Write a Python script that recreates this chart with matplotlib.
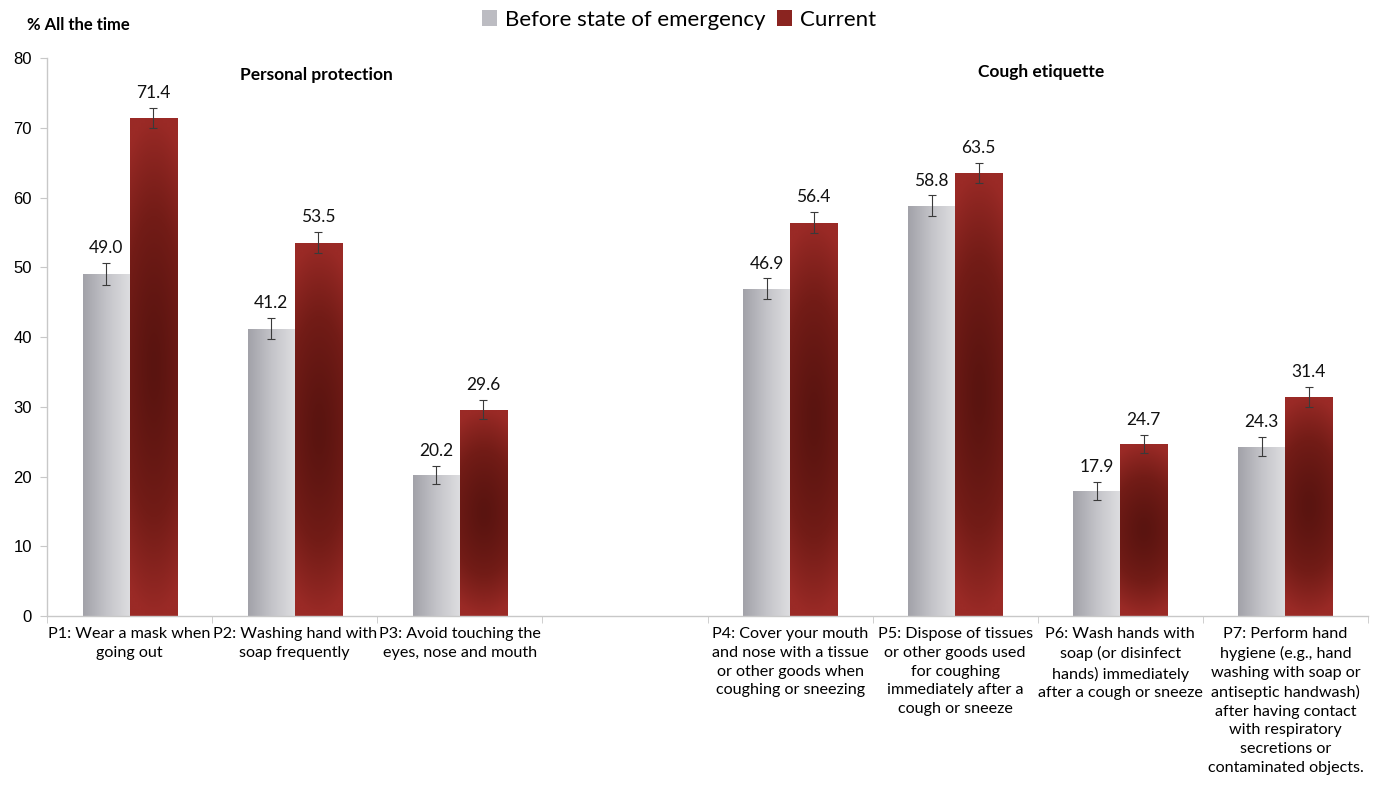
import numpy as np
import matplotlib.pyplot as plt
from matplotlib.patches import Patch
from matplotlib.colors import LinearSegmentedColormap

# data
labels = [
    "P1: Wear a mask when\ngoing out",
    "P2: Washing hand with\nsoap frequently",
    "P3: Avoid touching the\neyes, nose and mouth",
    "P4: Cover your mouth\nand nose with a tissue\nor other goods when\ncoughing or sneezing",
    "P5: Dispose of tissues\nor other goods used\nfor coughing\nimmediately after a\ncough or sneeze",
    "P6: Wash hands with\nsoap (or disinfect\nhands) immediately\nafter a cough or sneeze",
    "P7: Perform hand\nhygiene (e.g., hand\nwashing with soap or\nantiseptic handwash)\nafter having contact\nwith respiratory\nsecretions or\ncontaminated objects.",
]
slots = [0, 1, 2, 4, 5, 6, 7]  # slot 3 left empty between the two groups
before = [49.0, 41.2, 20.2, 46.9, 58.8, 17.9, 24.3]
current = [71.4, 53.5, 29.6, 56.4, 63.5, 24.7, 31.4]
before_err = [1.6, 1.5, 1.3, 1.5, 1.5, 1.3, 1.4]
current_err = [1.4, 1.5, 1.4, 1.5, 1.4, 1.3, 1.4]

plt.rcParams["font.family"] = ["Lato", "DejaVu Sans"]

fig = plt.figure(figsize=(13.86, 7.89), dpi=100)
ax = fig.add_axes([0.034, 0.219, 0.953, 0.7075])

x = np.array(slots, dtype=float)
w = 0.285

gray_cmap = LinearSegmentedColormap.from_list("g", ["#a2a2a9", "#c4c4c9", "#dedee1"])
red_cmap = LinearSegmentedColormap.from_list("r", ["#5a1410", "#731c17", "#9a2a26"])


def fill_gradient(patch, kind):
    bx, by = patch.get_x(), patch.get_y()
    bw, bh = patch.get_width(), patch.get_height()
    if kind == "gray":
        grad = np.tile(np.linspace(0, 1, 64), (8, 1))
        cmap = gray_cmap
    else:
        gx, gy = np.meshgrid(np.linspace(-1, 1, 64), np.linspace(-1, 1, 128))
        grad = np.clip(np.sqrt((gx * 0.45) ** 2 + gy ** 2), 0, 1) ** 1.4
        cmap = red_cmap
    im = ax.imshow(grad, cmap=cmap, vmin=0, vmax=1, aspect="auto",
                   extent=[bx, bx + bw, by, by + bh], origin="lower",
                   interpolation="bilinear", zorder=2)
    im.set_clip_path(patch)


bars_b = ax.bar(x - w / 2, before, w, color="none", edgecolor="none", zorder=2)
bars_c = ax.bar(x + w / 2, current, w, color="none", edgecolor="none", zorder=2)
for p in bars_b:
    fill_gradient(p, "gray")
for p in bars_c:
    fill_gradient(p, "red")

ax.errorbar(x - w / 2, before, yerr=before_err, fmt="none", ecolor="#3a3a3a",
            elinewidth=0.8, capsize=3, capthick=0.8, zorder=3)
ax.errorbar(x + w / 2, current, yerr=current_err, fmt="none", ecolor="#3a3a3a",
            elinewidth=0.8, capsize=3, capthick=0.8, zorder=3)

for xi, v, e in zip(x - w / 2, before, before_err):
    ax.annotate(f"{v:.1f}", (xi, v + e), xytext=(0, 5), textcoords="offset points",
                ha="center", va="bottom", fontsize=12.5, color="#111111")
for xi, v, e in zip(x + w / 2, current, current_err):
    ax.annotate(f"{v:.1f}", (xi, v + e), xytext=(0, 5), textcoords="offset points",
                ha="center", va="bottom", fontsize=12.5, color="#111111")

ax.set_xlim(-0.5, 7.5)
ax.set_ylim(0, 80)
ax.set_yticks(range(0, 81, 10))
ax.tick_params(axis="y", labelsize=12, length=5, color="#c8c8c8", pad=6)
for t in ax.get_yticklabels():
    t.set_fontfamily(["Liberation Sans", "DejaVu Sans"])

ax.set_xticks(x)
ax.set_xticklabels(labels, fontsize=11.6, linespacing=1.42, va="top")
ax.tick_params(axis="x", length=0, pad=8)
ax.set_xticks(np.arange(-0.5, 8.0, 1.0), minor=True)
ax.tick_params(axis="x", which="minor", length=5, color="#c8c8c8")

for s in ["top", "right"]:
    ax.spines[s].set_visible(False)
for s in ["left", "bottom"]:
    ax.spines[s].set_color("#c8c8c8")
    ax.spines[s].set_linewidth(1.0)

ax.text(1.13, 77.5, "Personal protection", ha="center", va="center",
        fontsize=12.5, fontweight="bold")
ax.text(5.52, 78.0, "Cough etiquette", ha="center", va="center",
        fontsize=12.5, fontweight="bold")

fig.text(0.0195, 0.968, "% All the time", ha="left", va="center",
         fontsize=12, fontweight="bold")

handles = [Patch(facecolor="#bcbcc2", edgecolor="none"),
           Patch(facecolor="#8a2420", edgecolor="none")]
fig.legend(handles, ["Before state of emergency", "Current"], loc="center",
           bbox_to_anchor=(0.49, 0.975), ncol=2, frameon=False, fontsize=16,
           handlelength=0.7, handleheight=0.7, handletextpad=0.35,
           columnspacing=0.5)

fig.savefig("out.png", dpi=100)
